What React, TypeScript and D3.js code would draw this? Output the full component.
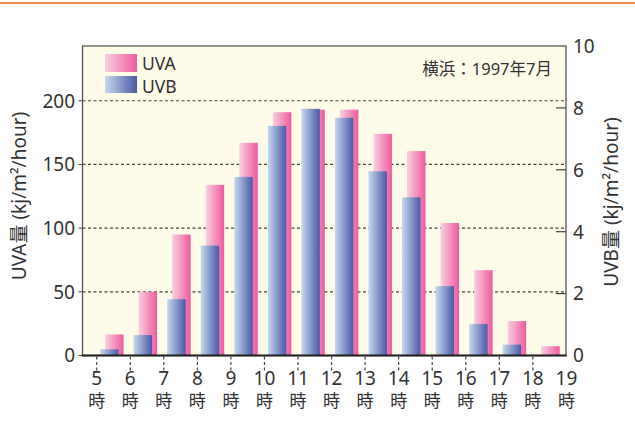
import React from "react";
import * as d3 from "d3";

const hours = [5, 6, 7, 8, 9, 10, 11, 12, 13, 14, 15, 16, 17, 18];
const tickHours = [5, 6, 7, 8, 9, 10, 11, 12, 13, 14, 15, 16, 17, 18, 19];
const uva = [16.5, 50, 95, 134, 167, 191, 193, 193, 174, 160.5, 104, 67, 27, 7.3];
const uvb = [0.2, 0.66, 1.82, 3.55, 5.77, 7.42, 7.97, 7.68, 5.95, 5.11, 2.24, 1.02, 0.35, 0];
const leftTicks = [0, 50, 100, 150, 200];
const rightTicks = [0, 2, 4, 6, 8, 10];

const W = 635;
const H = 427;
const font = "'Noto Sans', 'Noto Sans CJK JP', sans-serif";

export default function App() {
  const left = 82.5;
  const right = 566;
  const top = 46;
  const bottom = 355.5;
  const x = d3.scaleLinear().domain([5, 19]).range([96.7, 566.4]);
  const yL = d3.scaleLinear().domain([0, 243]).range([bottom, top]);
  const yR = d3.scaleLinear().domain([0, 10]).range([bottom, top]);
  const unit = x(6) - x(5);
  const barW = unit * 0.55;

  return (
    <svg
      width={W}
      height={H}
      style={{ position: "absolute", left: 0, top: 0, display: "block", background: "#fff" }}
      fontFamily={font}
    >
      <defs>
        <linearGradient id="gA" x1="0" x2="1" y1="0" y2="0">
          <stop offset="0" stopColor="#F9CFE1" />
          <stop offset="1" stopColor="#EE5A9D" />
        </linearGradient>
        <linearGradient id="gB" x1="0" x2="1" y1="0" y2="0">
          <stop offset="0" stopColor="#C6D9EE" />
          <stop offset="1" stopColor="#4A59A6" />
        </linearGradient>
      </defs>
      <line x1={0} x2={W} y1={3} y2={3} stroke="#F08A4B" strokeWidth={2} />
      <rect x={left} y={top} width={right - left} height={bottom - top} fill="#FEFBE9" />
      {leftTicks.filter((t) => t > 0).map((t) => (
        <line key={"g" + t} x1={left} x2={right} y1={yL(t)} y2={yL(t)} stroke="#444" strokeWidth={1.2} strokeDasharray="3,2.5" />
      ))}
      {uva.map((v, i) => (
        <rect key={"a" + i} x={x(hours[i] + 0.25)} y={yL(v)} width={barW} height={bottom - yL(v)} fill="url(#gA)" />
      ))}
      {uvb.map((v, i) =>
        v > 0 ? (
          <rect key={"b" + i} x={x(hours[i] + 0.1)} y={yR(v)} width={barW} height={bottom - yR(v)} fill="url(#gB)" />
        ) : null
      )}
      <rect x={left} y={top} width={right - left} height={bottom - top} fill="none" stroke="#555" strokeWidth={1.3} />
      <line x1={left - 1} x2={right + 0.7} y1={bottom} y2={bottom} stroke="#222" strokeWidth={1.8} />
      {leftTicks.map((t) => (
        <g key={"l" + t}>
          <line x1={left - 4} x2={left} y1={yL(t)} y2={yL(t)} stroke="#444" strokeWidth={1} />
          <text x={75} y={yL(t)} dy="0.36em" textAnchor="end" fontSize={19} fill="#333">
            {t}
          </text>
        </g>
      ))}
      {rightTicks.map((t) => (
        <g key={"r" + t}>
          {t > 0 && t < 10 ? (
            <line x1={right - 10} x2={right} y1={yR(t)} y2={yR(t)} stroke="#444" strokeWidth={1.2} />
          ) : null}
          <text x={573} y={yR(t)} dy="0.36em" textAnchor="start" fontSize={19} fill="#333">
            {t}
          </text>
        </g>
      ))}
      {tickHours.map((h) => (
        <g key={"x" + h}>
          {h < 19 ? (
            <line x1={x(h)} x2={x(h)} y1={bottom + 1} y2={bottom + 16} stroke="#444" strokeWidth={1.2} strokeDasharray="3,2.5" />
          ) : null}
          <text x={x(h)} y={385} textAnchor="middle" fontSize={19} fill="#333">
            {h}
          </text>
          <text x={x(h)} y={407} textAnchor="middle" fontSize={17} fill="#333">
            時
          </text>
        </g>
      ))}
      <rect x={105} y={54} width={32} height={18} fill="url(#gA)" />
      <rect x={105} y={76} width={32} height={17} fill="url(#gB)" />
      <text x={142} y={70} fontSize={17.5} fill="#333">UVA</text>
      <text x={142} y={93} fontSize={17.5} fill="#333">UVB</text>
      <text x={552} y={75} textAnchor="end" fontSize={16.5} fill="#333">横浜：1997年7月</text>
      <text transform="translate(26,196) rotate(-90)" textAnchor="middle" fontSize={19} fill="#333">
        UVA量 (kj/m²/hour)
      </text>
      <text transform="translate(618,202) rotate(-90)" textAnchor="middle" fontSize={19} fill="#333">
        UVB量 (kj/m²/hour)
      </text>
    </svg>
  );
}
